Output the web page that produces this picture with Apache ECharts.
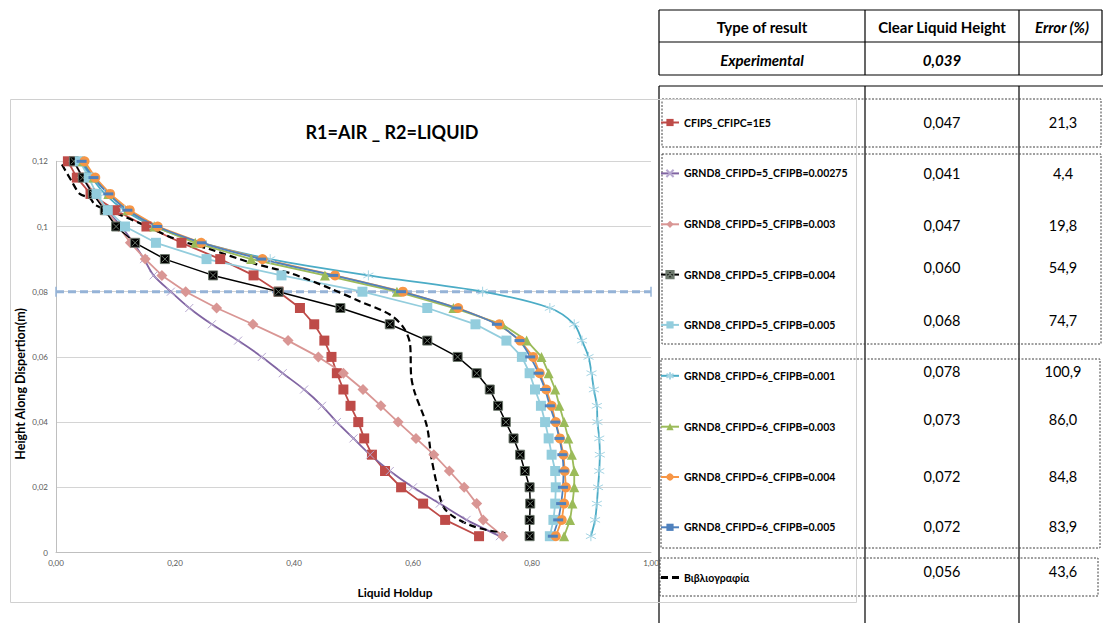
<!DOCTYPE html>
<html>
<head>
<meta charset="utf-8">
<script src="https://cdn.jsdelivr.net/npm/echarts@6/dist/echarts.min.js"></script>
<style>
  html, body { margin: 0; padding: 0; background: #fff; }
  #main { width: 1103px; height: 623px; }
</style>
</head>
<body>
<div id="main"></div>
<script>
// Sampling heights (m) shared by the simulated profiles, top to bottom
const heights = [0.12, 0.115, 0.11, 0.105, 0.10, 0.095, 0.09, 0.085, 0.08, 0.075, 0.07, 0.065,
                 0.06, 0.055, 0.05, 0.045, 0.04, 0.035, 0.03, 0.025, 0.02, 0.015, 0.01, 0.005];

// Liquid holdup per simulation case
const holdupCFIPS = [0.020, 0.035, 0.058, 0.100, 0.152, 0.211, 0.276, 0.332, 0.374, 0.410, 0.434, 0.451,
                     0.463, 0.472, 0.483, 0.495, 0.508, 0.518, 0.531, 0.553, 0.580, 0.617, 0.654, 0.711];
const holdupD5B00275 = [0.030, 0.045, 0.062, 0.085, 0.110, 0.130, 0.148, 0.164, 0.193, 0.224, 0.262, 0.306,
                        0.346, 0.381, 0.417, 0.447, 0.472, 0.500, 0.528, 0.561, 0.600, 0.645, 0.690, 0.746];
const holdupD5B003 = [0.030, 0.045, 0.065, 0.085, 0.105, 0.125, 0.150, 0.178, 0.218, 0.270, 0.331, 0.390,
                      0.441, 0.483, 0.516, 0.546, 0.575, 0.605, 0.635, 0.661, 0.686, 0.707, 0.718, 0.751];
const holdupD5B004 = [0.030, 0.045, 0.062, 0.082, 0.101, 0.133, 0.183, 0.264, 0.374, 0.478, 0.561, 0.624,
                      0.675, 0.707, 0.729, 0.743, 0.756, 0.769, 0.780, 0.788, 0.796, 0.797, 0.796, 0.796];
const holdupD5B005 = [0.040, 0.055, 0.068, 0.087, 0.116, 0.168, 0.253, 0.379, 0.515, 0.624, 0.705, 0.757,
                      0.783, 0.796, 0.805, 0.815, 0.822, 0.828, 0.833, 0.839, 0.840, 0.839, 0.836, 0.830];
const holdupD6B001 = [0.042, 0.060, 0.082, 0.115, 0.165, 0.245, 0.360, 0.525, 0.717, 0.830, 0.871, 0.884,
                      0.895, 0.900, 0.904, 0.909, 0.910, 0.913, 0.914, 0.913, 0.911, 0.909, 0.906, 0.899];
const holdupD6B003 = [0.045, 0.063, 0.088, 0.120, 0.165, 0.234, 0.328, 0.452, 0.573, 0.668, 0.750, 0.791,
                      0.816, 0.828, 0.839, 0.846, 0.854, 0.861, 0.867, 0.871, 0.871, 0.868, 0.864, 0.854];
const holdupD6B004 = [0.048, 0.066, 0.091, 0.124, 0.171, 0.244, 0.347, 0.469, 0.583, 0.676, 0.745, 0.780,
                      0.802, 0.813, 0.824, 0.833, 0.840, 0.847, 0.853, 0.855, 0.857, 0.854, 0.850, 0.840];
const holdupD6B005 = [0.043, 0.063, 0.088, 0.120, 0.170, 0.245, 0.345, 0.466, 0.580, 0.673, 0.741, 0.779,
                      0.797, 0.811, 0.822, 0.830, 0.839, 0.846, 0.851, 0.853, 0.852, 0.849, 0.844, 0.835];

// Literature profile (its own sampling)
const refHoldup = [0.010, 0.026, 0.040, 0.057, 0.066, 0.102, 0.147, 0.203, 0.259, 0.326, 0.395, 0.461,
                   0.511, 0.561, 0.584, 0.595, 0.597, 0.603, 0.623, 0.631, 0.640, 0.651, 0.668, 0.696, 0.724, 0.755];
const refHeight = [0.119, 0.114, 0.110, 0.1087, 0.1066, 0.104, 0.1005, 0.096, 0.093, 0.089, 0.0856, 0.081,
                   0.077, 0.073, 0.069, 0.064, 0.054, 0.049, 0.039, 0.029, 0.021, 0.014, 0.011, 0.0084, 0.0069, 0.0059];

// Horizontal reference level
const levelHoldup = [0, 1];
const levelHeight = [0.08, 0.08];

// Series names
const names = [
  'CFIPS_CFIPC=1E5',
  'GRND8_CFIPD=5_CFIPB=0.00275',
  'GRND8_CFIPD=5_CFIPB=0.003',
  'GRND8_CFIPD=5_CFIPB=0.004',
  'GRND8_CFIPD=5_CFIPB=0.005',
  'GRND8_CFIPD=6_CFIPB=0.001',
  'GRND8_CFIPD=6_CFIPB=0.003',
  'GRND8_CFIPD=6_CFIPB=0.004',
  'GRND8_CFIPD=6_CFIPB=0.005',
  'Βιβλιογραφία'
];

// Results table
const tableHeader = ['Type of result', 'Clear Liquid Height', 'Error (%)'];
const experimentalRow = ['Experimental', '0,039'];
const clearHeights = ['0,047', '0,041', '0,047', '0,060', '0,068', '0,078', '0,073', '0,072', '0,072', '0,056'];
const errors = ['21,3', '4,4', '19,8', '54,9', '74,7', '100,9', '86,0', '84,8', '83,9', '43,6'];

// Tick labels
const xTickLabels = ['0,00', '0,20', '0,40', '0,60', '0,80', '1,00'];
const yTickLabels = ['0', '0,02', '0,04', '0,06', '0,08', '0,1', '0,12'];

// ---- layout & style ----
const FONT = 'Lato, "Open Sans", sans-serif';
const rowY = [122, 173, 225, 267, 320, 371, 419, 476, 526, 571];

const zip = (xs, ys) => xs.map((x, i) => [x, ys[i]]);

const SYM_X = 'path://M0,0L10,10M10,0L0,10';
const SYM_AST = 'path://M5,0L5,10M0.7,2.5L9.3,7.5M0.7,7.5L9.3,2.5';
const SYM_BOXX = 'path://M0,0L10,0L10,10L0,10ZM1.5,1.5L8.5,8.5M8.5,1.5L1.5,8.5';
const ICON_DASH = 'path://M0,0L7,0L7,3L0,3ZM11,0L18,0L18,3L11,3Z';

function line(name, xs, ys, color, opt) {
  return Object.assign({
    name: name,
    type: 'line',
    data: zip(xs, ys),
    showSymbol: true,
    lineStyle: { color: color, width: 1.8 },
    itemStyle: { color: color },
    emphasis: { disabled: true },
    z: 2
  }, opt);
}

const series = [
  line(names[0], holdupCFIPS, heights, '#BE4B48', {
    symbol: 'rect', symbolSize: 10,
    itemStyle: { color: '#BE4B48' }
  }),
  line(names[1], holdupD5B00275, heights, '#8064A2', {
    symbol: SYM_X, symbolSize: 8, smooth: 0.3,
    itemStyle: { color: 'none', borderColor: '#B7A8D0', borderWidth: 1 }
  }),
  line(names[2], holdupD5B003, heights, '#D99694', {
    symbol: 'diamond', symbolSize: 11,
    itemStyle: { color: '#D99694' }
  }),
  line(names[3], holdupD5B004, heights, '#000000', {
    symbol: SYM_BOXX, symbolSize: 9,
    lineStyle: { color: '#000', width: 1.5 },
    itemStyle: { color: '#000', borderColor: '#6E7A6E', borderWidth: 1 }
  }),
  line(names[4], holdupD5B005, heights, '#93CDDD', {
    symbol: 'rect', symbolSize: 10,
    itemStyle: { color: '#93CDDD' }
  }),
  line(names[5], holdupD6B001, heights, '#4BACC6', {
    symbol: SYM_AST, symbolSize: 10, smooth: 0.3,
    itemStyle: { color: 'none', borderColor: '#A5D5E4', borderWidth: 1 }
  }),
  line(names[6], holdupD6B003, heights, '#9BBB59', {
    symbol: 'triangle', symbolSize: 10,
    itemStyle: { color: '#9BBB59' }
  }),
  line(names[7], holdupD6B004, heights, '#F79646', {
    symbol: 'circle', symbolSize: 10,
    itemStyle: { color: '#F79646' }
  }),
  line(names[8], holdupD6B005, heights, '#4F81BD', {
    symbol: 'rect', symbolSize: [10, 3], smooth: 0.3,
    itemStyle: { color: '#4F81BD' }
  }),
  line(names[9], refHoldup, refHeight, '#000000', {
    symbol: 'none', smooth: 0.3,
    lineStyle: { color: '#000', width: 2.2, type: [7, 4] }
  }),
  {
    name: 'level',
    type: 'line',
    data: zip(levelHoldup, levelHeight),
    symbol: 'rect', symbolSize: [1.5, 10],
    lineStyle: { color: '#95B3D7', width: 3, type: [8, 4] },
    itemStyle: { color: '#95B3D7' },
    emphasis: { disabled: true },
    z: 1
  }
];

// Table drawn behind the chart
const graphics = [];
function hline(x1, x2, y, w) {
  graphics.push({ type: 'line', z: -10, silent: true,
    shape: { x1: x1, y1: y, x2: x2, y2: y }, style: { stroke: '#000', lineWidth: w || 1.2 } });
}
function vline(x, y1, y2, w) {
  graphics.push({ type: 'line', z: -10, silent: true,
    shape: { x1: x, y1: y1, x2: x, y2: y2 }, style: { stroke: '#000', lineWidth: w || 1.2 } });
}
function dashBox(x, y, w, h) {
  graphics.push({ type: 'rect', z: -9, silent: true,
    shape: { x: x, y: y, width: w, height: h },
    style: { fill: 'none', stroke: '#404040', lineWidth: 1, lineDash: [2, 1.5] } });
}
function txt(s, x, y, opt) {
  graphics.push({ type: 'text', z: -8, silent: true, x: x, y: y,
    style: Object.assign({ text: s, fill: '#000', font: '14.5px ' + FONT, align: 'center', verticalAlign: 'middle' }, opt || {}) });
}

// upper block
hline(659, 1102, 10); hline(659, 1102, 42); hline(659, 1102, 75);
vline(659, 10, 75); vline(865, 10, 75); vline(1019, 10, 75); vline(1102, 10, 75);
// lower block
hline(659, 1103, 86);
vline(659, 86, 623); vline(865, 86, 623); vline(1019, 86, 623);
// grouping frames
dashBox(662, 99, 439, 48);
dashBox(662, 154, 439, 190);
dashBox(661, 359, 439, 189);
dashBox(660, 558, 438, 38);

txt(tableHeader[0], 762, 27, { font: 'bold 15px ' + FONT });
txt(tableHeader[1], 942, 27, { font: 'bold 15px ' + FONT });
txt(tableHeader[2], 1062, 27, { font: 'italic bold 15px ' + FONT });
txt(experimentalRow[0], 762, 60, { font: 'italic bold 15px ' + FONT });
txt(experimentalRow[1], 942, 60, { font: 'italic bold 15px ' + FONT });
clearHeights.forEach((v, i) => txt(v, 942, rowY[i]));
errors.forEach((v, i) => txt(v, 1063, rowY[i]));

// chart frame
graphics.push({ type: 'rect', z: -5, silent: true,
  shape: { x: 10.5, y: 99.5, width: 846, height: 503 },
  style: { fill: 'none', stroke: '#D0D0D0', lineWidth: 1 } });

const chart = echarts.init(document.getElementById('main'), null, { renderer: 'svg' });
chart.setOption({
  animation: false,
  backgroundColor: '#fff',
  title: {
    text: 'R1=AIR _ R2=LIQUID',
    left: 387, top: 118, textAlign: 'center',
    textStyle: { fontFamily: FONT, fontSize: 18, fontWeight: 'bold', color: '#000' }
  },
  grid: { left: 56, right: 452, top: 161.3, bottom: 70.5, containLabel: false },
  legend: {
    data: names.map((n, i) => i === 9 ? { name: n, icon: ICON_DASH } : n),
    orient: 'vertical',
    left: 660, top: 117, padding: 0,
    itemWidth: 18, itemHeight: 9, itemGap: 39.3,
    textStyle: { fontFamily: FONT, fontSize: 10.5, fontWeight: 'bold', color: '#000' },
    selectedMode: false
  },
  xAxis: {
    type: 'value', min: 0, max: 1, interval: 0.2,
    name: 'Liquid Holdup', nameLocation: 'middle', nameGap: 34, nameMoveOverlap: false,
    nameTextStyle: { fontFamily: FONT, fontSize: 12, fontWeight: 'bold', color: '#000', padding: [0, 0, 0, 83] },
    axisLine: { show: true, lineStyle: { color: '#BFBFBF', width: 1 } },
    axisTick: { show: false },
    splitLine: { show: false },
    axisLabel: { fontFamily: FONT, fontSize: 8, color: '#595959', margin: 6,
      formatter: v => xTickLabels[Math.round(v / 0.2)] }
  },
  yAxis: {
    type: 'value', min: 0, max: 0.12, interval: 0.02,
    name: 'Height Along Dispertion(m)', nameLocation: 'middle', nameGap: 29, nameMoveOverlap: false,
    nameTextStyle: { fontFamily: FONT, fontSize: 12.5, fontWeight: 'bold', color: '#000', padding: [0, 54, 0, 0] },
    axisLine: { show: true, lineStyle: { color: '#BFBFBF', width: 1 } },
    axisTick: { show: false },
    splitLine: { show: true, lineStyle: { color: '#D4D4D4', width: 1 } },
    axisLabel: { fontFamily: FONT, fontSize: 8, color: '#595959', margin: 8,
      formatter: v => yTickLabels[Math.round(v / 0.02)] }
  },
  graphic: graphics,
  series: series
});
</script>
</body>
</html>
